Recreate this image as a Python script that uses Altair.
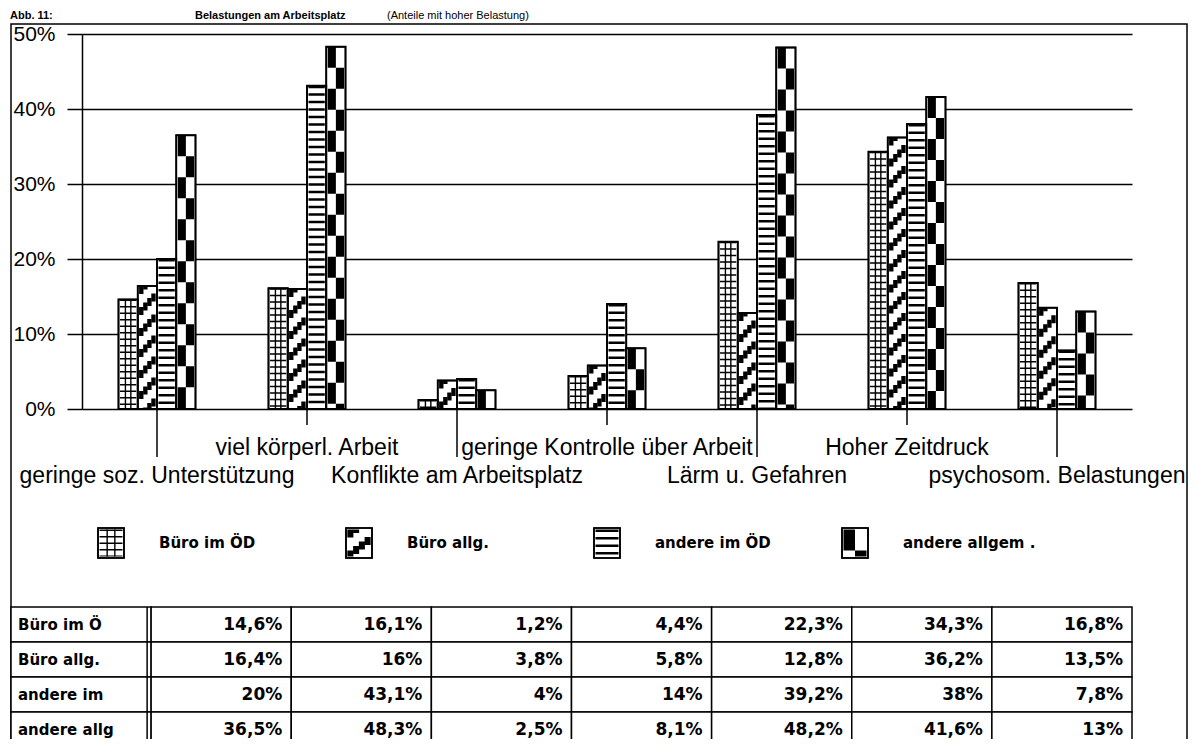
import altair as alt
import pandas as pd

# ---------------- data ----------------
categories = ["geringe soz. Unterstützung", "viel körperl. Arbeit", "Konflikte am Arbeitsplatz",
              "geringe Kontrolle über Arbeit", "Lärm u. Gefahren", "Hoher Zeitdruck",
              "psychosom. Belastungen"]
series = ["Büro im ÖD", "Büro allg.", "andere im ÖD", "andere allgem ."]
table_row_labels = ["Büro im Ö", "Büro allg.", "andere im", "andere allg"]
buero_oed = [14.6, 16.1, 1.2, 4.4, 22.3, 34.3, 16.8]
buero_allg = [16.4, 16.0, 3.8, 5.8, 12.8, 36.2, 13.5]
andere_oed = [20.0, 43.1, 4.0, 14.0, 39.2, 38.0, 7.8]
andere_allg = [36.5, 48.3, 2.5, 8.1, 48.2, 41.6, 13.0]
y_ticks = [0, 10, 20, 30, 40, 50]
title_parts = ["Abb. 11:", "Belastungen am Arbeitsplatz", "(Anteile mit hoher Belastung)"]

series_values = [buero_oed, buero_allg, andere_oed, andere_allg]


def fmt(v):
    s = "%.1f" % v
    if s.endswith(".0"):
        s = s[:-2]
    return s.replace(".", ",") + "%"


rows = []
for k, (s, vals) in enumerate(zip(series, series_values)):
    for i, (c, v) in enumerate(zip(categories, vals)):
        rows.append({"cat": c, "series": s, "value": v, "idx": i})
df = pd.DataFrame(rows)
df_cat = pd.DataFrame({"cat": categories, "idx": list(range(len(categories)))})
df_leg = pd.DataFrame({"series": series})

trows = []
for lab, vals in zip(table_row_labels, series_values):
    trows.append({"col": "_label", "row": lab, "text": lab, "kind": "label"})
    for c, v in zip(categories, vals):
        trows.append({"col": c, "row": lab, "text": fmt(v), "kind": "num"})
df_tab = pd.DataFrame(trows)

# ---------------- layout constants ----------------
W, H = 1050, 375
BW = 19.25
offsets = [(k - 1.5) * BW for k in range(4)]
FONT = "Liberation Sans"
TFONT = "DejaVu Sans"

xs = alt.Scale(domain=categories, paddingInner=0.487, paddingOuter=0.2435)
ys = alt.Scale(domain=[0, 50], nice=False, zero=True)
yaxis = alt.Axis(values=y_ticks, labelExpr="datum.value + '%'", tickSize=15, tickColor="black",
                 tickWidth=1.5, domainColor="black", domainWidth=1.5, grid=True, gridColor="black",
                 gridWidth=1.5, gridOpacity=1, labelFont=FONT, labelFontSize=21, labelColor="black",
                 labelPadding=12, title=None)


def pattern_layers(base, k, x_enc, y_enc, y2_enc, w, off):
    inner = w - 3
    out = []

    def rule(dx, sw, dash=None, dashoff=0):
        props = dict(color="black", strokeWidth=sw, xOffset=off + dx, strokeCap="butt")
        if dash:
            props["strokeDash"] = dash
            props["strokeDashOffset"] = dashoff
        return base.mark_rule(**props).encode(x=x_enc, y=y_enc, y2=y2_enc)

    if k == 0:  # grid
        out.append(rule(0, inner, [1.5, 5]))
        out.append(rule(-inner / 6, 1.4))
        out.append(rule(inner / 6, 1.4))
    elif k == 1:  # diagonal hatch (staircase)
        cw = inner / 4
        for j in range(4):
            out.append(rule((j - 1.5) * cw, cw + 0.3, [8, 13], j * 4.5))
    elif k == 2:  # horizontal stripes
        out.append(rule(0, inner, [2.5, 5]))
    else:  # checker
        out.append(rule(-inner / 4, inner / 2, [21, 21], 0))
        out.append(rule(inner / 4, inner / 2, [21, 21], 21))
    return out


# ---------------- main plot ----------------
xe = alt.X("cat:N", scale=xs, axis=None)
ye = alt.Y("value:Q", scale=ys, axis=yaxis)

fills, pats, outlines = [], [], []
for k, s in enumerate(series):
    base = alt.Chart(df).transform_filter(alt.datum.series == s)
    fills.append(base.mark_bar(width=BW, xOffset=offsets[k], fill="white", stroke="black",
                               strokeWidth=1.6).encode(x=xe, y=ye))
    pats += pattern_layers(base, k, xe, ye, alt.datum(0), BW, offsets[k])
    outlines.append(base.mark_bar(width=BW, xOffset=offsets[k], fillOpacity=0, stroke="black",
                                  strokeWidth=1.8).encode(x=xe, y=ye))

catbase = alt.Chart(df_cat)
tick_long = catbase.transform_filter("datum.idx % 2 == 0").mark_rule(color="black", strokeWidth=1.5).encode(
    x=xe, y=alt.value(H), y2=alt.value(H + 48))
tick_short = catbase.transform_filter("datum.idx % 2 == 1").mark_rule(color="black", strokeWidth=1.5).encode(
    x=xe, y=alt.value(H), y2=alt.value(H + 16))
lab_row1 = catbase.transform_filter("datum.idx % 2 == 1").mark_text(
    font=FONT, fontSize=23, color="black", baseline="alphabetic", align="center").encode(
    x=xe, y=alt.value(421), text="cat:N")
lab_row2 = catbase.transform_filter("datum.idx % 2 == 0").mark_text(
    font=FONT, fontSize=23, color="black", baseline="alphabetic", align="center").encode(
    x=xe, y=alt.value(449), text="cat:N")

one = alt.Chart(pd.DataFrame({"a": [0]}))
frame = one.mark_rect(fillOpacity=0, stroke="black", strokeWidth=1.5).encode(
    x=alt.value(-71), x2=alt.value(1105), y=alt.value(-10), y2=alt.value(800))
t1 = one.mark_text(text=title_parts[0], font=FONT, fontSize=11, fontWeight="bold", align="left",
                   baseline="alphabetic", color="black").encode(x=alt.value(-72), y=alt.value(-15))
t2 = one.mark_text(text=title_parts[1], font=FONT, fontSize=11, fontWeight="bold", align="left",
                   baseline="alphabetic", color="black").encode(x=alt.value(113), y=alt.value(-15))
t3 = one.mark_text(text=title_parts[2], font=FONT, fontSize=11, align="left",
                   baseline="alphabetic", color="black").encode(x=alt.value(305), y=alt.value(-15))

main = alt.layer(frame, t1, t2, t3, *fills, *pats, *outlines, tick_long, tick_short, lab_row1, lab_row2)

# ---------------- legend ----------------
lx = alt.Scale(type="point", domain=series, range=[29, 773], padding=0)
lxe = alt.X("series:N", scale=lx, axis=None)
IW = 26
leg_layers = []
for k, s in enumerate(series):
    b = alt.Chart(df_leg).transform_filter(alt.datum.series == s)
    leg_layers.append(b.mark_bar(width=IW, fill="white", stroke="black", strokeWidth=1.6).encode(
        x=lxe, y=alt.value(494), y2=alt.value(524)))
    leg_layers += pattern_layers(b, k, lxe, alt.value(495.5), alt.value(522.5), IW, 0)
    leg_layers.append(b.mark_bar(width=IW, fillOpacity=0, stroke="black", strokeWidth=1.6).encode(
        x=lxe, y=alt.value(494), y2=alt.value(524)))
leg_text = alt.Chart(df_leg).mark_text(align="left", dx=48, font=TFONT, fontWeight="bold", fontSize=15,
                                       baseline="middle", color="black").encode(
    x=lxe, y=alt.value(509), text="series:N")
legend = alt.layer(*leg_layers, leg_text)

# ---------------- table ----------------
tx = alt.Scale(domain=["_label"] + categories, range=[-71, 1050], paddingInner=0, paddingOuter=0)
ty = alt.Scale(domain=table_row_labels, range=[573, 713], paddingInner=0, paddingOuter=0)
tb = alt.Chart(df_tab)
cells = tb.mark_rect(fill="white", stroke="black", strokeWidth=1.5).encode(
    x=alt.X("col:N", scale=tx, axis=None), y=alt.Y("row:N", scale=ty, axis=None))
dbl = alt.Chart(pd.DataFrame({"col": ["_label"]})).mark_rule(color="black", strokeWidth=1.5, xOffset=-4).encode(
    x=alt.X("col:N", scale=tx, axis=None, bandPosition=1), y=alt.value(573), y2=alt.value(800))
txt_lab = tb.transform_filter("datum.kind == 'label'").mark_text(
    align="left", dx=7, font=TFONT, fontWeight="bold", fontSize=15, baseline="middle", color="black").encode(
    x=alt.X("col:N", scale=tx, axis=None, bandPosition=0), y=alt.Y("row:N", scale=ty, axis=None),
    text="text:N")
txt_num = tb.transform_filter("datum.kind == 'num'").mark_text(
    align="right", dx=-9, font=TFONT, fontWeight="bold", fontSize=17, baseline="middle", color="black").encode(
    x=alt.X("col:N", scale=tx, axis=None, bandPosition=1), y=alt.Y("row:N", scale=ty, axis=None),
    text="text:N")
table = alt.layer(cells, dbl, txt_lab, txt_num)

chart = alt.layer(main, legend, table).resolve_scale(x="independent", y="independent").properties(
    width=W, height=H, autosize=alt.AutoSizeParams(type="none"),
    padding={"left": 74, "top": 26, "right": 56, "bottom": 330},
    background="white",
).configure_view(stroke=None)

chart.save("out.html", embed_options={"renderer": "svg", "actions": False})
